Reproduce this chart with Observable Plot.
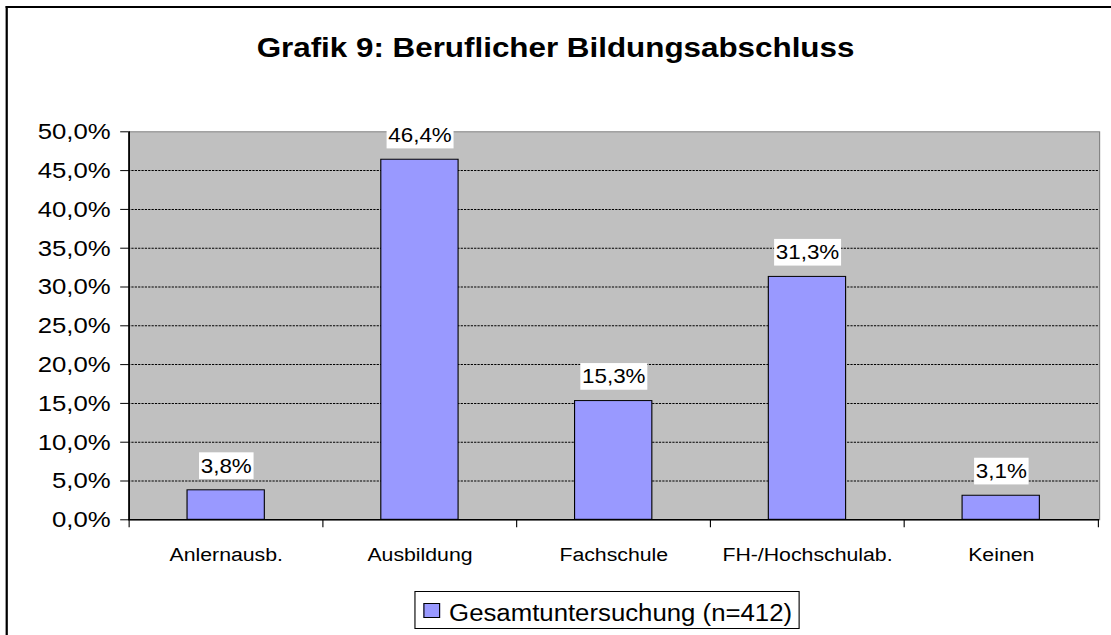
<!DOCTYPE html>
<html>
<head>
<meta charset="utf-8">
<script src="https://cdn.jsdelivr.net/npm/d3@7"></script>
<script src="https://cdn.jsdelivr.net/npm/@observablehq/plot@0.6"></script>
<style>
  html, body { margin: 0; padding: 0; background: #fff; overflow: hidden; }
  #wrap { position: relative; width: 992px; height: 635px; transform: scaleX(1.12); transform-origin: 0 0; background: #fff; overflow: hidden; font-family: "Liberation Sans", Arial, sans-serif; }
  #chart { position: absolute; left: 0; top: 0; }
  #border { position: absolute; left: 5px; top: 6px; width: 2000px; height: 2000px; border-left: 2px solid #000; border-top: 2px solid #000; pointer-events: none; }
  #title { position: absolute; left: 0; top: 34px; width: 992px; text-align: center; font-weight: bold; font-size: 28px; line-height: 28px; color: #000; }
  #legend { position: absolute; left: 370px; top: 591px; height: 26px; padding: 10px 6px 0 7px; border: 1px solid #000; background: #fff; font-size: 23px; line-height: 23px; color: #000; white-space: nowrap; }
  #legend .sw { display: inline-block; width: 13px; height: 13px; border: 1px solid #000; background: #9999FF; vertical-align: top; margin-top: 1px; margin-right: 8px; }
</style>
</head>
<body>
<div id="wrap">
  <div id="chart"></div>
  <div id="title"></div>
  <div id="legend"></div>
  <div id="border"></div>
</div>
<script>
const titleText = "Grafik 9: Beruflicher Bildungsabschluss";
const seriesName = "Gesamtuntersuchung (n=412)";
const categories = ["Anlernausb.", "Ausbildung", "Fachschule", "FH-/Hochschulab.", "Keinen"];
const values = [3.8, 46.4, 15.3, 31.3, 3.1];
const yTicks = [0, 5, 10, 15, 20, 25, 30, 35, 40, 45, 50];
const yDomain = [0, 50];

const data = categories.map((c, i) => ({category: c, value: values[i]}));
const fmt = v => v.toFixed(1).replace(".", ",") + "%";

const W = 992, H = 635;
const mL = 114.3, mR = 10.7, mT = 131.3, mB = H - 519.3;
const step = (W - mL - mR) / categories.length;

const svg = Plot.plot({
  width: W, height: H,
  marginLeft: mL, marginRight: mR, marginTop: mT, marginBottom: mB,
  style: {background: "transparent", fontFamily: "'Liberation Sans', Arial, sans-serif", color: "#000", overflow: "visible"},
  x: {domain: categories, paddingInner: 0.6, paddingOuter: 0.3, label: null},
  y: {domain: yDomain, label: null},
  marks: [
    Plot.frame({fill: "#C0C0C0", stroke: "#808080"}),
    Plot.gridY(yTicks.filter(t => t > yDomain[0] && t < yDomain[1]), {stroke: "#000", strokeOpacity: 1, strokeDasharray: "2,1"}),
    Plot.barY(data, {x: "category", y: "value", fill: "#9999FF", stroke: "#000", strokeWidth: 1}),
    Plot.ruleY([yDomain[0]], {stroke: "#000", strokeWidth: 1.5}),
    Plot.ruleX([categories[0]], {x: d => d, dx: -step / 2, y1: yDomain[0], y2: yDomain[1], stroke: "#000", strokeWidth: 1.5}),
    Plot.axisY({ticks: yTicks, tickFormat: fmt, tickSize: 7, tickPadding: 9, fontSize: 23, stroke: "#000", label: null}),
    Plot.axisX({tickSize: 0, tickPadding: 27.5, fontSize: 19, label: null}),
    Plot.axisX({tickSize: 8, text: null, dx: -step / 2, stroke: "#000", label: null}),
    Plot.axisX({ticks: [categories[categories.length - 1]], tickSize: 8, text: null, dx: step / 2, stroke: "#000", label: null}),
    Plot.text(data, {x: "category", y: "value", text: d => fmt(d.value), dy: -24, fontSize: 20, fill: "#000"})
  ]
});

document.getElementById("chart").append(svg);
document.getElementById("title").textContent = titleText;
const lg = document.getElementById("legend");
const sw = document.createElement("span"); sw.className = "sw";
lg.append(sw, document.createTextNode(seriesName));

const NS = "http://www.w3.org/2000/svg";
svg.querySelectorAll('g[aria-label="text"] text').forEach(t => {
  const b = t.getBBox();
  const r = document.createElementNS(NS, "rect");
  r.setAttribute("x", b.x - 1.5);
  r.setAttribute("y", b.y - 2.5);
  r.setAttribute("width", b.width + 3);
  r.setAttribute("height", b.height + 5);
  r.setAttribute("fill", "#fff");
  const tr = t.getAttribute("transform");
  if (tr) r.setAttribute("transform", tr);
  t.parentNode.insertBefore(r, t);
});
</script>
</body>
</html>
